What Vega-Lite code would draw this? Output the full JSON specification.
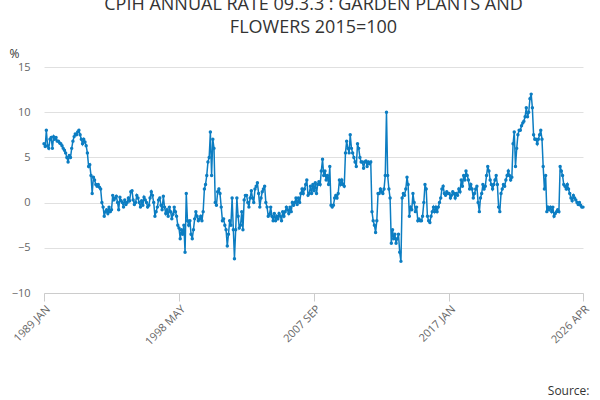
{"$schema":"https://vega.github.io/schema/vega-lite/v6.json","width":539,"height":226,"autosize":"none","padding":{"left":44,"top":67,"right":17,"bottom":107},
"title":{"text":["CPIH ANNUAL RATE 09.3.3 : GARDEN PLANTS AND","FLOWERS 2015=100"],"fontSize":18,"font":"Open Sans","fontWeight":"normal","color":"#333333","offset":10,"anchor":"middle","lineHeight":23},
"config":{"view":{"stroke":null},"font":"Open Sans"},
"data":{"values":[
{"d":"1989-01-01","v":6.5},{"d":"1989-02-01","v":6.2},{"d":"1989-03-01","v":8},{"d":"1989-04-01","v":6.3},{"d":"1989-05-01","v":6},{"d":"1989-06-01","v":7},{"d":"1989-07-01","v":7.2},{"d":"1989-08-01","v":6},{"d":"1989-09-01","v":7.3},{"d":"1989-10-01","v":7},{"d":"1989-11-01","v":7.2},{"d":"1989-12-01","v":6.8},
{"d":"1990-01-01","v":6.8},{"d":"1990-02-01","v":6.6},{"d":"1990-03-01","v":6.5},{"d":"1990-04-01","v":6.3},{"d":"1990-05-01","v":6},{"d":"1990-06-01","v":5.8},{"d":"1990-07-01","v":5.5},{"d":"1990-08-01","v":5},{"d":"1990-09-01","v":4.5},{"d":"1990-10-01","v":5.2},{"d":"1990-11-01","v":5},{"d":"1990-12-01","v":6},
{"d":"1991-01-01","v":6.8},{"d":"1991-02-01","v":7.3},{"d":"1991-03-01","v":7.6},{"d":"1991-04-01","v":7.5},{"d":"1991-05-01","v":7.8},{"d":"1991-06-01","v":8},{"d":"1991-07-01","v":7.5},{"d":"1991-08-01","v":7},{"d":"1991-09-01","v":6.5},{"d":"1991-10-01","v":7},{"d":"1991-11-01","v":6.7},{"d":"1991-12-01","v":6.3},
{"d":"1992-01-01","v":5.5},{"d":"1992-02-01","v":4},{"d":"1992-03-01","v":4.2},{"d":"1992-04-01","v":3},{"d":"1992-05-01","v":1},{"d":"1992-06-01","v":2.8},{"d":"1992-07-01","v":2.5},{"d":"1992-08-01","v":2},{"d":"1992-09-01","v":1.8},{"d":"1992-10-01","v":2},{"d":"1992-11-01","v":1.7},{"d":"1992-12-01","v":1.5},
{"d":"1993-01-01","v":0},{"d":"1993-02-01","v":-0.5},{"d":"1993-03-01","v":-1.5},{"d":"1993-04-01","v":-1},{"d":"1993-05-01","v":-0.8},{"d":"1993-06-01","v":-1.2},{"d":"1993-07-01","v":-0.5},{"d":"1993-08-01","v":-1},{"d":"1993-09-01","v":-0.8},{"d":"1993-10-01","v":0.8},{"d":"1993-11-01","v":0.3},{"d":"1993-12-01","v":0.5},
{"d":"1994-01-01","v":0.7},{"d":"1994-02-01","v":0},{"d":"1994-03-01","v":-0.8},{"d":"1994-04-01","v":0.6},{"d":"1994-05-01","v":0.2},{"d":"1994-06-01","v":0},{"d":"1994-07-01","v":-0.5},{"d":"1994-08-01","v":0.3},{"d":"1994-09-01","v":-0.2},{"d":"1994-10-01","v":0},{"d":"1994-11-01","v":0.5},{"d":"1994-12-01","v":0.2},
{"d":"1995-01-01","v":1.2},{"d":"1995-02-01","v":1.3},{"d":"1995-03-01","v":0.3},{"d":"1995-04-01","v":-0.2},{"d":"1995-05-01","v":0},{"d":"1995-06-01","v":0.8},{"d":"1995-07-01","v":0.5},{"d":"1995-08-01","v":0},{"d":"1995-09-01","v":-0.5},{"d":"1995-10-01","v":0.2},{"d":"1995-11-01","v":-0.3},{"d":"1995-12-01","v":0.6},
{"d":"1996-01-01","v":0.3},{"d":"1996-02-01","v":0},{"d":"1996-03-01","v":-0.5},{"d":"1996-04-01","v":-0.3},{"d":"1996-05-01","v":0.5},{"d":"1996-06-01","v":1.2},{"d":"1996-07-01","v":0.8},{"d":"1996-08-01","v":0},{"d":"1996-09-01","v":-1.5},{"d":"1996-10-01","v":-1},{"d":"1996-11-01","v":-0.5},{"d":"1996-12-01","v":0.3},
{"d":"1997-01-01","v":0.5},{"d":"1997-02-01","v":-0.3},{"d":"1997-03-01","v":-0.8},{"d":"1997-04-01","v":0.7},{"d":"1997-05-01","v":-0.5},{"d":"1997-06-01","v":-1.2},{"d":"1997-07-01","v":-0.8},{"d":"1997-08-01","v":-1.5},{"d":"1997-09-01","v":-0.5},{"d":"1997-10-01","v":-1},{"d":"1997-11-01","v":-1.8},{"d":"1997-12-01","v":-1.3},
{"d":"1998-01-01","v":-0.5},{"d":"1998-02-01","v":-1},{"d":"1998-03-01","v":-1.5},{"d":"1998-04-01","v":-2.5},{"d":"1998-05-01","v":-2.8},{"d":"1998-06-01","v":-4},{"d":"1998-07-01","v":-3},{"d":"1998-08-01","v":-3.5},{"d":"1998-09-01","v":-2.5},{"d":"1998-10-01","v":-5.5},{"d":"1998-11-01","v":1},{"d":"1998-12-01","v":-2},
{"d":"1999-01-01","v":-2.5},{"d":"1999-02-01","v":-2},{"d":"1999-03-01","v":-3.5},{"d":"1999-04-01","v":-4},{"d":"1999-05-01","v":-3},{"d":"1999-06-01","v":-1.8},{"d":"1999-07-01","v":-1},{"d":"1999-08-01","v":-1.5},{"d":"1999-09-01","v":-2},{"d":"1999-10-01","v":-1.8},{"d":"1999-11-01","v":-1.5},{"d":"1999-12-01","v":-2},
{"d":"2000-01-01","v":-1},{"d":"2000-02-01","v":1.5},{"d":"2000-03-01","v":2},{"d":"2000-04-01","v":3},{"d":"2000-05-01","v":4.5},{"d":"2000-06-01","v":5},{"d":"2000-07-01","v":7.8},{"d":"2000-08-01","v":3},{"d":"2000-09-01","v":7},{"d":"2000-10-01","v":6},{"d":"2000-11-01","v":0},{"d":"2000-12-01","v":-0.3},
{"d":"2001-01-01","v":1.2},{"d":"2001-02-01","v":1.5},{"d":"2001-03-01","v":1},{"d":"2001-04-01","v":-0.5},{"d":"2001-05-01","v":-2},{"d":"2001-06-01","v":-1.8},{"d":"2001-07-01","v":-2.5},{"d":"2001-08-01","v":-3},{"d":"2001-09-01","v":-4.8},{"d":"2001-10-01","v":-3.5},{"d":"2001-11-01","v":-2},{"d":"2001-12-01","v":-2.5},
{"d":"2002-01-01","v":0.5},{"d":"2002-02-01","v":-3},{"d":"2002-03-01","v":-6.2},{"d":"2002-04-01","v":-3},{"d":"2002-05-01","v":0.5},{"d":"2002-06-01","v":-1.5},{"d":"2002-07-01","v":-2.8},{"d":"2002-08-01","v":-2.5},{"d":"2002-09-01","v":-1},{"d":"2002-10-01","v":-3},{"d":"2002-11-01","v":0.3},{"d":"2002-12-01","v":0.8},
{"d":"2003-01-01","v":0.8},{"d":"2003-02-01","v":0},{"d":"2003-03-01","v":-0.5},{"d":"2003-04-01","v":0.5},{"d":"2003-05-01","v":1.3},{"d":"2003-06-01","v":0.5},{"d":"2003-07-01","v":0},{"d":"2003-08-01","v":1.5},{"d":"2003-09-01","v":1.8},{"d":"2003-10-01","v":2.2},{"d":"2003-11-01","v":1},{"d":"2003-12-01","v":-0.5},
{"d":"2004-01-01","v":0.5},{"d":"2004-02-01","v":1.2},{"d":"2004-03-01","v":1.5},{"d":"2004-04-01","v":1.8},{"d":"2004-05-01","v":0},{"d":"2004-06-01","v":-0.5},{"d":"2004-07-01","v":-1.5},{"d":"2004-08-01","v":-1.3},{"d":"2004-09-01","v":-0.5},{"d":"2004-10-01","v":-1.5},{"d":"2004-11-01","v":-2},{"d":"2004-12-01","v":-1.2},
{"d":"2005-01-01","v":-2},{"d":"2005-02-01","v":-1.5},{"d":"2005-03-01","v":-1.8},{"d":"2005-04-01","v":-1.2},{"d":"2005-05-01","v":-1.5},{"d":"2005-06-01","v":-2},{"d":"2005-07-01","v":-1},{"d":"2005-08-01","v":-1.5},{"d":"2005-09-01","v":-1},{"d":"2005-10-01","v":-0.5},{"d":"2005-11-01","v":-0.8},{"d":"2005-12-01","v":-1.2},
{"d":"2006-01-01","v":-0.5},{"d":"2006-02-01","v":-1},{"d":"2006-03-01","v":0},{"d":"2006-04-01","v":-0.3},{"d":"2006-05-01","v":0},{"d":"2006-06-01","v":0.5},{"d":"2006-07-01","v":-0.2},{"d":"2006-08-01","v":0.5},{"d":"2006-09-01","v":0},{"d":"2006-10-01","v":1},{"d":"2006-11-01","v":1.5},{"d":"2006-12-01","v":1},
{"d":"2007-01-01","v":1.5},{"d":"2007-02-01","v":2},{"d":"2007-03-01","v":2.5},{"d":"2007-04-01","v":0.8},{"d":"2007-05-01","v":1},{"d":"2007-06-01","v":1.8},{"d":"2007-07-01","v":1},{"d":"2007-08-01","v":2},{"d":"2007-09-01","v":1.3},{"d":"2007-10-01","v":2.2},{"d":"2007-11-01","v":1},{"d":"2007-12-01","v":2},
{"d":"2008-01-01","v":2.3},{"d":"2008-02-01","v":2},{"d":"2008-03-01","v":3.5},{"d":"2008-04-01","v":4.8},{"d":"2008-05-01","v":3},{"d":"2008-06-01","v":3.5},{"d":"2008-07-01","v":2.5},{"d":"2008-08-01","v":3},{"d":"2008-09-01","v":2},{"d":"2008-10-01","v":4},{"d":"2008-11-01","v":-0.3},{"d":"2008-12-01","v":-0.5},
{"d":"2009-01-01","v":-0.3},{"d":"2009-02-01","v":0.5},{"d":"2009-03-01","v":0.8},{"d":"2009-04-01","v":0.5},{"d":"2009-05-01","v":1},{"d":"2009-06-01","v":2.5},{"d":"2009-07-01","v":2},{"d":"2009-08-01","v":2.5},{"d":"2009-09-01","v":2},{"d":"2009-10-01","v":1.8},{"d":"2009-11-01","v":5.5},{"d":"2009-12-01","v":6.8},
{"d":"2010-01-01","v":6},{"d":"2010-02-01","v":5.5},{"d":"2010-03-01","v":7.5},{"d":"2010-04-01","v":6},{"d":"2010-05-01","v":5.5},{"d":"2010-06-01","v":5},{"d":"2010-07-01","v":4.5},{"d":"2010-08-01","v":4},{"d":"2010-09-01","v":6.5},{"d":"2010-10-01","v":6},{"d":"2010-11-01","v":5},{"d":"2010-12-01","v":4.5},
{"d":"2011-01-01","v":4.5},{"d":"2011-02-01","v":3.8},{"d":"2011-03-01","v":4.5},{"d":"2011-04-01","v":4.6},{"d":"2011-05-01","v":4},{"d":"2011-06-01","v":4.5},{"d":"2011-07-01","v":4.3},{"d":"2011-08-01","v":4.5},{"d":"2011-09-01","v":-1},{"d":"2011-10-01","v":-2},{"d":"2011-11-01","v":-2.5},{"d":"2011-12-01","v":-3.3},
{"d":"2012-01-01","v":-2},{"d":"2012-02-01","v":1},{"d":"2012-03-01","v":1},{"d":"2012-04-01","v":1.5},{"d":"2012-05-01","v":1.2},{"d":"2012-06-01","v":1},{"d":"2012-07-01","v":1.5},{"d":"2012-08-01","v":3},{"d":"2012-09-01","v":10},{"d":"2012-10-01","v":3},{"d":"2012-11-01","v":1.5},{"d":"2012-12-01","v":0.5},
{"d":"2013-01-01","v":-4.5},{"d":"2013-02-01","v":-3},{"d":"2013-03-01","v":-4},{"d":"2013-04-01","v":-3.5},{"d":"2013-05-01","v":-4.5},{"d":"2013-06-01","v":-4},{"d":"2013-07-01","v":-3.5},{"d":"2013-08-01","v":-5.5},{"d":"2013-09-01","v":-6.5},{"d":"2013-10-01","v":0.5},{"d":"2013-11-01","v":1},{"d":"2013-12-01","v":0.8},
{"d":"2014-01-01","v":1.5},{"d":"2014-02-01","v":2.8},{"d":"2014-03-01","v":2},{"d":"2014-04-01","v":-1.5},{"d":"2014-05-01","v":-0.5},{"d":"2014-06-01","v":-0.8},{"d":"2014-07-01","v":1},{"d":"2014-08-01","v":0},{"d":"2014-09-01","v":-1},{"d":"2014-10-01","v":-0.5},{"d":"2014-11-01","v":-2},{"d":"2014-12-01","v":-1.8},
{"d":"2015-01-01","v":-2},{"d":"2015-02-01","v":-2},{"d":"2015-03-01","v":-1.5},{"d":"2015-04-01","v":0},{"d":"2015-05-01","v":2},{"d":"2015-06-01","v":1.5},{"d":"2015-07-01","v":-1.5},{"d":"2015-08-01","v":-2},{"d":"2015-09-01","v":-2.2},{"d":"2015-10-01","v":-1.5},{"d":"2015-11-01","v":-1},{"d":"2015-12-01","v":-0.5},
{"d":"2016-01-01","v":-1},{"d":"2016-02-01","v":-0.5},{"d":"2016-03-01","v":-1},{"d":"2016-04-01","v":-0.5},{"d":"2016-05-01","v":0},{"d":"2016-06-01","v":0.5},{"d":"2016-07-01","v":1.5},{"d":"2016-08-01","v":1.8},{"d":"2016-09-01","v":1},{"d":"2016-10-01","v":0.8},{"d":"2016-11-01","v":1.2},{"d":"2016-12-01","v":1},
{"d":"2017-01-01","v":1},{"d":"2017-02-01","v":0.5},{"d":"2017-03-01","v":0.8},{"d":"2017-04-01","v":1.2},{"d":"2017-05-01","v":1},{"d":"2017-06-01","v":0.5},{"d":"2017-07-01","v":1},{"d":"2017-08-01","v":0.8},{"d":"2017-09-01","v":1.5},{"d":"2017-10-01","v":1.2},{"d":"2017-11-01","v":2.5},{"d":"2017-12-01","v":1.8},
{"d":"2018-01-01","v":3},{"d":"2018-02-01","v":2.5},{"d":"2018-03-01","v":3.5},{"d":"2018-04-01","v":3},{"d":"2018-05-01","v":2.5},{"d":"2018-06-01","v":1.5},{"d":"2018-07-01","v":2},{"d":"2018-08-01","v":1.5},{"d":"2018-09-01","v":0.5},{"d":"2018-10-01","v":1},{"d":"2018-11-01","v":1.5},{"d":"2018-12-01","v":1.8},
{"d":"2019-01-01","v":0},{"d":"2019-02-01","v":-1},{"d":"2019-03-01","v":0.5},{"d":"2019-04-01","v":1},{"d":"2019-05-01","v":2},{"d":"2019-06-01","v":1.5},{"d":"2019-07-01","v":1.8},{"d":"2019-08-01","v":3},{"d":"2019-09-01","v":4},{"d":"2019-10-01","v":3.5},{"d":"2019-11-01","v":2.5},{"d":"2019-12-01","v":2},
{"d":"2020-01-01","v":1.5},{"d":"2020-02-01","v":2},{"d":"2020-03-01","v":2.5},{"d":"2020-04-01","v":3},{"d":"2020-05-01","v":2},{"d":"2020-06-01","v":-0.5},{"d":"2020-07-01","v":-1},{"d":"2020-08-01","v":1},{"d":"2020-09-01","v":1.5},{"d":"2020-10-01","v":2},{"d":"2020-11-01","v":1.8},{"d":"2020-12-01","v":2.5},
{"d":"2021-01-01","v":3},{"d":"2021-02-01","v":3.5},{"d":"2021-03-01","v":3},{"d":"2021-04-01","v":2.5},{"d":"2021-05-01","v":2.8},{"d":"2021-06-01","v":6.5},{"d":"2021-07-01","v":7.8},{"d":"2021-08-01","v":4},{"d":"2021-09-01","v":6},{"d":"2021-10-01","v":7.5},{"d":"2021-11-01","v":8},{"d":"2021-12-01","v":8},
{"d":"2022-01-01","v":8.5},{"d":"2022-02-01","v":8.8},{"d":"2022-03-01","v":9},{"d":"2022-04-01","v":9.5},{"d":"2022-05-01","v":10.5},{"d":"2022-06-01","v":9.5},{"d":"2022-07-01","v":10},{"d":"2022-08-01","v":11.5},{"d":"2022-09-01","v":12},{"d":"2022-10-01","v":10.5},{"d":"2022-11-01","v":7.5},{"d":"2022-12-01","v":7},
{"d":"2023-01-01","v":7},{"d":"2023-02-01","v":6.5},{"d":"2023-03-01","v":7},{"d":"2023-04-01","v":7.5},{"d":"2023-05-01","v":8},{"d":"2023-06-01","v":7},{"d":"2023-07-01","v":4},{"d":"2023-08-01","v":1.5},{"d":"2023-09-01","v":3},{"d":"2023-10-01","v":-1},{"d":"2023-11-01","v":-0.5},{"d":"2023-12-01","v":-0.8},
{"d":"2024-01-01","v":-0.5},{"d":"2024-02-01","v":-1},{"d":"2024-03-01","v":-0.5},{"d":"2024-04-01","v":-1.5},{"d":"2024-05-01","v":-1.2},{"d":"2024-06-01","v":-1},{"d":"2024-07-01","v":-0.8},{"d":"2024-08-01","v":-1},{"d":"2024-09-01","v":4},{"d":"2024-10-01","v":3.5},{"d":"2024-11-01","v":3},{"d":"2024-12-01","v":2},
{"d":"2025-01-01","v":1.8},{"d":"2025-02-01","v":1.5},{"d":"2025-03-01","v":2},{"d":"2025-04-01","v":1.5},{"d":"2025-05-01","v":1},{"d":"2025-06-01","v":0.5},{"d":"2025-07-01","v":0.2},{"d":"2025-08-01","v":0.8},{"d":"2025-09-01","v":0.5},{"d":"2025-10-01","v":0.3},{"d":"2025-11-01","v":0},{"d":"2025-12-01","v":-0.2},
{"d":"2026-01-01","v":0},{"d":"2026-02-01","v":-0.3},{"d":"2026-03-01","v":-0.5},{"d":"2026-04-01","v":-0.5}
]},
"mark":{"type":"line","strokeWidth":1.5,"point":{"filled":true,"size":12}},
"encoding":{
"x":{"field":"d","type":"temporal","scale":{"domain":[{"year":1989,"month":1,"date":1},{"year":2026,"month":4,"date":1}]},
 "axis":{"values":[{"year":1989,"month":1,"date":1},{"year":1998,"month":5,"date":1},{"year":2007,"month":9,"date":1},{"year":2017,"month":1,"date":1},{"year":2026,"month":4,"date":1}],
 "labelExpr":"upper(timeFormat(datum.value,'%Y %b'))","labelAngle":-45,"labelAlign":"right","labelBaseline":"top","labelFontSize":11,"labelColor":"#666666","grid":false,"domainColor":"#cccccc","tickColor":"#cccccc","tickSize":8,"title":"Source:","titleFontWeight":"normal","titleFontSize":12,"titleColor":"#333333","titleY":97,"titleBaseline":"middle","titleAlign":"right","titleX":545,"labelFlush":false}},
"y":{"field":"v","type":"quantitative","scale":{"domain":[-10,15],"nice":false},
 "axis":{"values":[-10,-5,0,5,10,15],"title":"%","titleAngle":0,"titleAlign":"left","titleBaseline":"middle","titleY":-14,"titleX":-35,"titleFontWeight":"normal","titleFontSize":12,"titleColor":"#333333","labelColor":"#666666","labelFontSize":11,"domain":false,"ticks":false,"gridColor":"#e0e0e0","labelPadding":14}},
"color":{"datum":"CPIH ANNUAL RATE 09.3.3 : GARDEN PLANTS AND FLOWERS 2015=100","type":"nominal","scale":{"range":["#0c7dc2"]},
 "legend":{"orient":"bottom","title":null,"labelFontSize":12,"labelFontWeight":"bold","labelColor":"#333333","symbolType":"stroke","symbolStrokeWidth":2,"symbolSize":300,"offset":12,"labelLimit":600}}}
}
